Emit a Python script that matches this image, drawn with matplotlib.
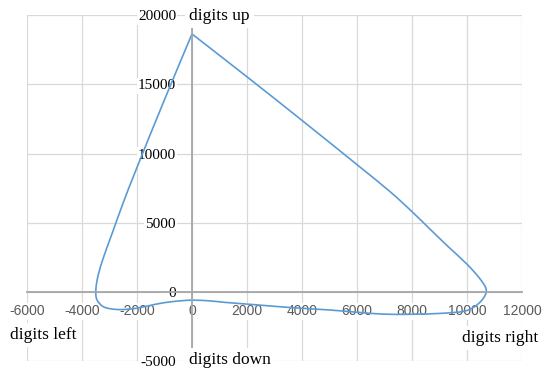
import matplotlib
matplotlib.use("Agg")
import matplotlib.pyplot as plt
from matplotlib.path import Path
from matplotlib.patches import PathPatch

# loop: top -> left branch -> bottom -> right branch -> top
X = [0, -1000, -2000, -2500, -2900, -3200, -3400, -3490, -3470,
     -3250, -2940, -2560, -2000, -1310, -690, 0, 690,
     1140, 2350, 3560, 5000, 5980, 6950, 8000, 9000, 9850, 10250, 10520,
     10680, 10680, 10450, 10000, 9300, 8700, 8000, 7200, 6000, 4000,
     2000, 0]
Y = [18650, 13900, 9000, 6450, 4250, 2600, 1300, 300, -500,
     -1040, -1230, -1280, -1180, -890, -700, -600, -660,
     -750, -940, -1130, -1310, -1470, -1610, -1620, -1560, -1420, -1100, -650,
     -150, 300, 1000, 2000, 3300, 4450, 5800, 7250, 9200, 12400,
     15550, 18650]

X_TICKS = [-6000, -4000, -2000, 0, 2000, 4000, 6000, 8000, 10000, 12000]
Y_TICKS = [-5000, 0, 5000, 10000, 15000, 20000]


def smooth_path(xs, ys):
    # Catmull-Rom through the traced points, drawn as cubic Beziers (Excel "smoothed line")
    pts = list(zip(xs, ys))
    verts, codes = [pts[0]], [Path.MOVETO]
    n = len(pts)
    for i in range(n - 1):
        p0 = pts[max(i - 1, 0)]
        p1, p2 = pts[i], pts[i + 1]
        p3 = pts[min(i + 2, n - 1)]
        c1 = (p1[0] + (p2[0] - p0[0]) / 6, p1[1] + (p2[1] - p0[1]) / 6)
        c2 = (p2[0] - (p3[0] - p1[0]) / 6, p2[1] - (p3[1] - p1[1]) / 6)
        verts += [c1, c2, p2]
        codes += [Path.CURVE4] * 3
    return Path(verts, codes)


plt.rcParams.update({"axes.unicode_minus": False})
fig = plt.figure(figsize=(5.5, 3.77), dpi=100)
ax = fig.add_axes([27 / 550, 1 - 361 / 377, 495 / 550, 345.7 / 377])

ax.add_patch(PathPatch(smooth_path(X, Y), facecolor="none",
                       edgecolor="#5B9BD5", lw=1.2, zorder=2))
ax.set_xlim(-6000, 12000)
ax.set_ylim(-5000, 20000)

ax.set_axisbelow(True)
ax.grid(True, color="#d9d9d9", lw=0.9)
for side in ("top", "right"):
    ax.spines[side].set_visible(False)
for side in ("left", "bottom"):
    ax.spines[side].set_position(("data", 0))
    ax.spines[side].set_color("#a6a6a6")
    ax.spines[side].set_linewidth(1.3)

box = dict(facecolor="white", edgecolor="none", pad=1.0)
ax.set_xticks(X_TICKS, [str(v) for v in X_TICKS], family="Liberation Sans",
              fontsize=10, color="#595959", bbox=box)
ax.set_yticks(Y_TICKS, [str(v) for v in Y_TICKS], family="Liberation Serif",
              fontsize=11, color="black", bbox=box)
ax.tick_params(axis="x", length=0, pad=9)
ax.tick_params(axis="y", length=0, pad=11.5)

tbox = dict(facecolor="white", edgecolor="none", pad=3.0)
tkw = dict(family="Liberation Serif", fontsize=12.5, va="center",
           bbox=tbox, clip_on=False, zorder=4)
ax.text(-110, 19950, "digits up", ha="left", **tkw)
ax.text(-110, -4950, "digits down", ha="left", **tkw)
ax.text(-6620, -3100, "digits left", ha="left", **tkw)
ax.text(12580, -3360, "digits right", ha="right", **tkw)

fig.savefig("out.png", dpi=100)
